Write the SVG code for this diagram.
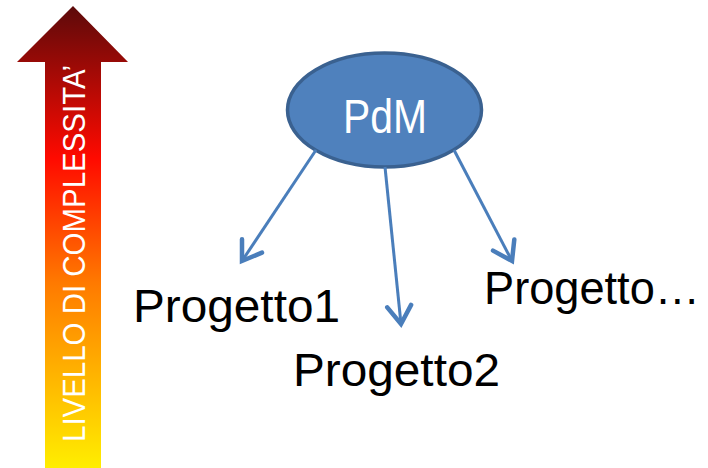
<svg xmlns="http://www.w3.org/2000/svg" width="708" height="468" viewBox="0 0 708 468">
<defs>
<linearGradient id="heat" x1="0" y1="6" x2="0" y2="468" gradientUnits="userSpaceOnUse">
<stop offset="0" stop-color="#5c0a0a"/>
<stop offset="0.33" stop-color="#ff0a00"/>
<stop offset="0.6" stop-color="#ff7a00"/>
<stop offset="1" stop-color="#ffee00"/>
</linearGradient>
<marker id="vhead" markerUnits="userSpaceOnUse" markerWidth="30" markerHeight="30" refX="14" refY="10" orient="auto" viewBox="0 0 20 20">
<path d="M2,2 L14,10 L2,18" fill="none" stroke="#4a7ebb" stroke-width="3" stroke-linecap="round" stroke-linejoin="miter"/>
</marker>
<style>
.conn{fill:none;stroke:#4a7ebb;stroke-width:3;marker-end:url(#vhead);}
.lbl{font-family:"Liberation Sans",Arial,sans-serif;font-size:46px;fill:#000;}
</style>
</defs>
<g id="complexity-arrow">
<polygon points="73,6 128,62 101,62 101,468 45,468 45,62 17,62" fill="url(#heat)"/>
<text transform="translate(85,442) rotate(-90)" font-family="'Liberation Sans',Arial,sans-serif" font-size="32" fill="#fff" textLength="377" lengthAdjust="spacingAndGlyphs">LIVELLO DI COMPLESSITA’</text>
</g>
<g id="pdm">
<ellipse cx="384.5" cy="110" rx="97" ry="57" fill="#4f81bd" stroke="#3a6190" stroke-width="3.5"/>
<text x="343" y="133" font-family="'Liberation Sans',Arial,sans-serif" font-size="48" fill="#fff" textLength="84" lengthAdjust="spacingAndGlyphs">PdM</text>
</g>
<g id="connectors">
<line class="conn" x1="316" y1="150" x2="242" y2="261"/>
<line class="conn" x1="385" y1="167" x2="401" y2="324"/>
<line class="conn" x1="454" y1="150" x2="512" y2="261"/>
</g>
<g id="progetto1"><text class="lbl" x="133" y="322" textLength="207" lengthAdjust="spacingAndGlyphs">Progetto1</text></g>
<g id="progetto2"><text class="lbl" x="293" y="386" textLength="207" lengthAdjust="spacingAndGlyphs">Progetto2</text></g>
<g id="progetto3"><text class="lbl" x="484" y="304" textLength="216" lengthAdjust="spacingAndGlyphs">Progetto…</text></g>
</svg>
